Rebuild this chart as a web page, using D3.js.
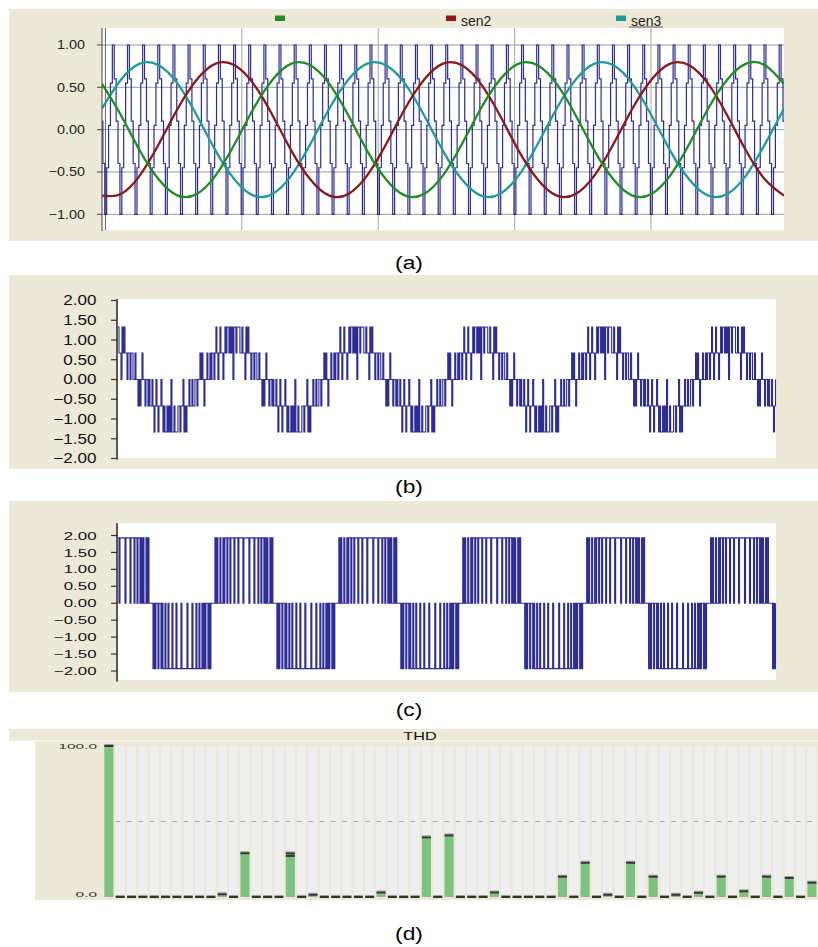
<!DOCTYPE html>
<html>
<head>
<meta charset="utf-8">
<script src="https://cdn.jsdelivr.net/npm/d3@7"></script>
<style>
  body { margin: 0; background: #fff; }
  svg { display: block; font-family: "Liberation Sans", Arial, sans-serif; }
</style>
</head>
<body>
<svg id="chart" width="818" height="947"></svg>
<script>
// ---------- data ----------
// (a) reference sines, read every 1/12 of a 20 ms cycle
var sineStepMs = 20 / 12;
var sen1 = [0.54, 0.17, -0.25, -0.59, -0.78, -0.76, -0.54, -0.17, 0.25, 0.59, 0.78, 0.76,
            0.54, 0.17, -0.25, -0.59, -0.78, -0.76, -0.54, -0.17, 0.25, 0.59, 0.78, 0.76,
            0.54, 0.17, -0.25, -0.59, -0.78, -0.76, -0.54, -0.17, 0.25, 0.59, 0.78, 0.76, 0.54];
var sen2 = [-0.78, -0.76, -0.54, -0.17, 0.25, 0.59, 0.78, 0.76, 0.54, 0.17, -0.25, -0.59,
            -0.78, -0.76, -0.54, -0.17, 0.25, 0.59, 0.78, 0.76, 0.54, 0.17, -0.25, -0.59,
            -0.78, -0.76, -0.54, -0.17, 0.25, 0.59, 0.78, 0.76, 0.54, 0.17, -0.25, -0.59, -0.78];
var sen3 = [0.25, 0.59, 0.78, 0.76, 0.54, 0.17, -0.25, -0.59, -0.78, -0.76, -0.54, -0.17,
            0.25, 0.59, 0.78, 0.76, 0.54, 0.17, -0.25, -0.59, -0.78, -0.76, -0.54, -0.17,
            0.25, 0.59, 0.78, 0.76, 0.54, 0.17, -0.25, -0.59, -0.78, -0.76, -0.54, -0.17, 0.25];
var legendNames = ['', 'sen2', 'sen3'];

// carrier: one period of the stepped triangle, 15 periods per cycle
var carrierSteps = [-1, -0.45, 0.05, 0.55, 1, 0.6, 0.1, -0.4];
var carrierPeriodMs = 20 / 15;
var carrierStartMs = -1.09;
var carrierPeriods = 47;

var gridMs = [0.3, 12.3, 24.3, 36.3, 48.3];
var ticksA = [1, 0.5, 0, -0.5, -1];
var ticksBC = [2, 1.5, 1, 0.5, 0, -0.5, -1, -1.5, -2];

// (b) phase voltage: levels and one fundamental cycle of samples (level index per sample)
var phaseLevels = [-1.33, -0.67, 0, 0.67, 1.33];
var phaseCycle = ['212232232332', '343234332343', '44343424434443', '343324343323', '323322322121',
                  '232212212112', '101210112101', '00101020010001', '101120101121', '121122122323'].join('');
var phaseOffset = 39;

// (c) line voltage
var lineLevels = [-1.93, 0, 1.93];
var lineCycle = ['2121121121', '2212212221', '2221222212', '2222122221', '2221221221', '21211212', '1111',
                 '0101101101', '0010010001', '0001000010', '0000100001', '0001001001', '01011010', '1111'].join('');
var lineOffset = 27;
var sampleCount = 659;

// (d) harmonic spectrum, % of fundamental
var harmonicOrders = d3.range(1, 64);
var thdValues = [100, 0, 0, 0, 0, 0, 0, 0, 0, 0,
                 1.8, 0, 29, 0, 0, 0, 27.2, 0, 1.5, 0,
                 0, 0, 0, 0, 3, 0, 0, 0, 39.5, 0,
                 40.8, 0, 0, 0, 3, 0, 0, 0, 0, 0,
                 13.5, 0, 22.7, 0, 1.5, 0, 22.7, 0, 13.5, 0,
                 1.5, 0, 2.8, 0, 13.5, 0, 3.8, 0, 13.5, 0,
                 12.6, 0, 9.5];
var thdMarkOrders = [17];
var thdMarkValues = [28.9];

// ---------- drawing ----------
var svg = d3.select('#chart');
var beige = '#ece9d8';
var navy = '#16168a';

var label = function(x, y, str, size, sx, anchor, color) {
  svg.append('text')
    .attr('transform', 'translate(' + x + ',' + y + ') scale(' + sx + ',1)')
    .attr('text-anchor', anchor || 'end')
    .attr('dy', '0.35em')
    .attr('font-size', size)
    .attr('fill', color || '#111')
    .text(str);
};

// ===== (a) =====
svg.append('rect').attr('x', 9).attr('y', 9).attr('width', 809).attr('height', 232).attr('fill', beige);
svg.append('rect').attr('x', 102).attr('y', 28).attr('width', 682).attr('height', 202).attr('fill', '#fff');

var xa = d3.scaleLinear().domain([0, 60]).range([102, 784]);
var ya = d3.scaleLinear().domain([-1, 1]).range([214.3, 45]);

svg.append('clipPath').attr('id', 'clipA')
  .append('rect').attr('x', 102).attr('y', 28).attr('width', 682).attr('height', 202);

svg.selectAll('.hgridA').data(ticksA).enter().append('line')
  .attr('x1', 102).attr('x2', 784)
  .attr('y1', function(d) { return ya(d); }).attr('y2', function(d) { return ya(d); })
  .attr('stroke', '#9a9a9a').attr('stroke-width', 1);

svg.selectAll('.vgridA').data(gridMs).enter().append('line')
  .attr('x1', function(d) { return xa(d); }).attr('x2', function(d) { return xa(d); })
  .attr('y1', 28).attr('y2', 230)
  .attr('stroke', function(d, i) { return i === 0 ? '#666' : '#a4a4a4'; }).attr('stroke-width', 1);

var carrier = [];
for (var j = 0; j <= carrierPeriods * carrierSteps.length; j++) {
  carrier.push({ t: carrierStartMs + j * carrierPeriodMs / carrierSteps.length, v: carrierSteps[j % carrierSteps.length] });
}
var plotA = svg.append('g').attr('clip-path', 'url(#clipA)');
plotA.append('path').datum(carrier)
  .attr('d', d3.line().x(function(d) { return xa(d.t); }).y(function(d) { return ya(d.v); }).curve(d3.curveStepAfter))
  .attr('fill', 'none').attr('stroke', navy).attr('stroke-width', 1.2).attr('stroke-opacity', 0.9);

var sineLine = d3.line()
  .x(function(d, i) { return xa(i * sineStepMs); })
  .y(function(d) { return ya(d); })
  .curve(d3.curveNatural);
var sines = [sen3, sen2, sen1];
var sineColors = ['#1f9a9a', '#8e1616', '#1e8e1e'];
sines.forEach(function(s, k) {
  plotA.append('path').datum(s).attr('d', sineLine)
    .attr('fill', 'none').attr('stroke', sineColors[k]).attr('stroke-width', 2.3);
});

svg.append('line').attr('x1', 102).attr('x2', 102).attr('y1', 28).attr('y2', 231).attr('stroke', '#444');
ticksA.forEach(function(t) {
  svg.append('line').attr('x1', 97).attr('x2', 102).attr('y1', ya(t)).attr('y2', ya(t)).attr('stroke', '#444');
  label(85, ya(t), d3.format('.2f')(t), 12.5, 1.15, 'end', '#222');
});

// legend
var legendX = [275, 446, 616];
var legendColors = ['#1e8e1e', '#8e1616', '#1f9a9a'];
legendNames.forEach(function(n, k) {
  svg.append('rect').attr('x', legendX[k]).attr('y', 15.5).attr('width', 10).attr('height', 5.5).attr('fill', legendColors[k]);
  if (n) {
    svg.append('text').attr('x', legendX[k] + 15).attr('y', 25.5).attr('font-size', 14).attr('fill', '#222').text(n);
  }
});
svg.append('line').attr('x1', 629).attr('x2', 663).attr('y1', 27).attr('y2', 27).attr('stroke', '#333').attr('stroke-width', 0.8);

// ===== stepped waveform panels (b), (c) =====
var waveform = function(top, height, plotTop, plotBottom, yRange, cycle, offset, levels, tickSize, tickSx) {
  svg.append('rect').attr('x', 9).attr('y', top).attr('width', 809).attr('height', height).attr('fill', beige);
  svg.append('rect').attr('x', 118).attr('y', plotTop).attr('width', 658).attr('height', plotBottom - plotTop).attr('fill', '#fff');
  var xs = d3.scaleLinear().domain([0, sampleCount - 1]).range([118, 775.5]);
  var ys = d3.scaleLinear().domain([-2, 2]).range(yRange);
  var pts = d3.range(sampleCount).map(function(i) {
    return levels[+cycle[(i + offset) % cycle.length]];
  });
  svg.append('path').datum(pts)
    .attr('d', d3.line().x(function(d, i) { return xs(i); }).y(function(d) { return ys(d); }).curve(d3.curveStepAfter))
    .attr('fill', 'none').attr('stroke', navy).attr('stroke-width', 1.1).attr('stroke-opacity', 0.9);
  svg.append('line').attr('x1', 117).attr('x2', 117).attr('y1', plotTop).attr('y2', plotBottom + 1.5)
    .attr('stroke', '#333').attr('stroke-width', 1.6);
  ticksBC.forEach(function(t) {
    svg.append('line').attr('x1', 111).attr('x2', 117).attr('y1', ys(t)).attr('y2', ys(t)).attr('stroke', '#333').attr('stroke-width', 1.2);
    label(96.5, ys(t), d3.format('.2f')(t), tickSize, tickSx, 'end', '#111');
  });
};

waveform(275, 194, 299, 458, [458.5, 300.5], phaseCycle, phaseOffset, phaseLevels, 14, 1.22);
waveform(501, 191, 523, 680, [671, 535.5], lineCycle, lineOffset, lineLevels, 11.6, 1.45);

// ===== (d) =====
svg.append('rect').attr('x', 9).attr('y', 729).attr('width', 809).attr('height', 11.5).attr('fill', beige);
svg.append('rect').attr('x', 35).attr('y', 741.5).attr('width', 783).attr('height', 158.5).attr('fill', beige);
label(420, 736, 'THD', 10.5, 1.55, 'middle', '#111');

var xd = d3.scaleBand().domain(harmonicOrders).range([103.2, 817.6]).paddingInner(0.2).paddingOuter(0.1);
var yd = d3.scaleLinear().domain([0, 100]).range([897, 746]);

svg.selectAll('.col').data(harmonicOrders).enter().append('rect')
  .attr('x', function(d) { return xd(d); }).attr('width', xd.bandwidth())
  .attr('y', yd(100)).attr('height', yd(0) - yd(100)).attr('fill', '#efefef');

svg.append('line').attr('x1', xd(1)).attr('x2', xd(63) + xd.bandwidth())
  .attr('y1', yd(50)).attr('y2', yd(50))
  .attr('stroke', '#a8a8a8').attr('stroke-dasharray', '4.5,' + (xd.step() - 4.5));

svg.selectAll('.bar').data(harmonicOrders).enter().append('rect')
  .attr('x', function(d) { return xd(d); }).attr('width', xd.bandwidth())
  .attr('y', function(d, i) { return yd(thdValues[i]); })
  .attr('height', function(d, i) { return yd(0) - yd(thdValues[i]); })
  .attr('fill', '#7ec27f');

var cap = function(order, v) {
  svg.append('rect').attr('x', xd(order)).attr('width', xd.bandwidth())
    .attr('y', yd(v) - 2).attr('height', 1).attr('fill', '#a0a0a0');
  svg.append('rect').attr('x', xd(order)).attr('width', xd.bandwidth())
    .attr('y', yd(v) - 1).attr('height', 2).attr('fill', '#333');
};
harmonicOrders.forEach(function(h, i) { cap(h, thdValues[i]); });
thdMarkOrders.forEach(function(h, i) { cap(h, thdMarkValues[i]); });

label(97, yd(100) + 1, '100.0', 7, 2.2, 'end', '#333');
label(97, yd(0) - 2, '0.0', 7, 2.2, 'end', '#333');

// captions
var captions = ['(a)', '(b)', '(c)', '(d)'];
var captionY = [262, 486, 709, 933];
captions.forEach(function(c, i) {
  label(409, captionY[i], c, 19, 1.2, 'middle', '#000');
});
</script>
</body>
</html>
